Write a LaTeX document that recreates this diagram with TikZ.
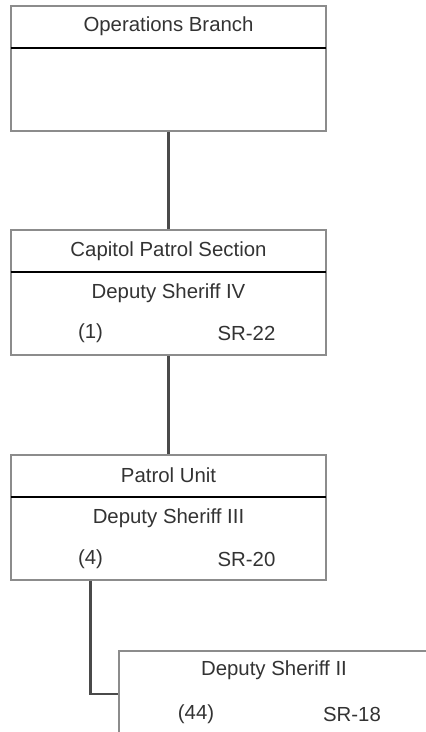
\documentclass[tikz,border=0pt]{standalone}
\usepackage{fontspec}
\setmainfont{Liberation Sans}
\usepackage{xcolor}
\usepackage{tikz}
\usetikzlibrary{positioning}
\definecolor{frame}{HTML}{8C8C8C}
\definecolor{ink}{HTML}{333333}
\definecolor{wire}{HTML}{4A4A4A}

\begin{document}
\begin{tikzpicture}[
  node distance=1.95cm,
  unitbox/.style={draw=frame, line width=1.1pt, minimum width=6.3cm, minimum height=2.5cm, inner sep=0pt},
  hdr/.style={minimum width=6.3cm, minimum height=0.84cm, inner sep=0pt, text=ink, font=\fontsize{11.6}{14}\selectfont},
  txt/.style={text=ink, inner sep=0pt, font=\fontsize{11.6}{14}\selectfont},
  divider/.style={line width=1.1pt, black},
  link/.style={line width=1.2pt, wire}]
\clip (0,0) rectangle (8.52,-14.64);
\node[unitbox] (ops) at (3.37,-1.37) {};
\node[hdr, below=0pt of ops.north] (opsT) {Operations Branch};
\node[unitbox, below=of ops] (cps) {};
\node[hdr, below=0pt of cps.north] (cpsT) {Capitol Patrol Section};
\node[txt, below=0.43cm of cpsT.south, anchor=center] (cpsR) {Deputy Sheriff IV};
\node[txt, below left=1.23cm and 1.56cm of cpsT.south, anchor=center] (cpsN) {(1)};
\node[txt, below right=1.23cm and 1.56cm of cpsT.south, anchor=center] (cpsG) {SR-22};
\node[unitbox, below=of cps] (pu) {};
\node[hdr, below=0pt of pu.north] (puT) {Patrol Unit};
\node[txt, below=0.43cm of puT.south, anchor=center] (puR) {Deputy Sheriff III};
\node[txt, below left=1.26cm and 1.56cm of puT.south, anchor=center] (puN) {(4)};
\node[txt, below right=1.26cm and 1.56cm of puT.south, anchor=center] (puG) {SR-20};
\node[unitbox, minimum width=6.2cm, minimum height=1.72cm, below=1.38cm of pu, xshift=2.11cm] (dsb) {};
\node[txt, below=0.41cm of dsb.north, anchor=center] (dsbR) {Deputy Sheriff II};
\node[txt, below left=1.29cm and 1.56cm of dsb.north, anchor=center] (dsbN) {(44)};
\node[txt, below right=1.29cm and 1.56cm of dsb.north, anchor=center] (dsbG) {SR-18};
\draw[divider] (opsT.south west) -- (opsT.south east);
\draw[divider] (cpsT.south west) -- (cpsT.south east);
\draw[divider] (puT.south west) -- (puT.south east);
\draw[link] (ops.south) -- (cps.north);
\draw[link] (cps.south) -- (pu.north);
\draw[link] (pu.south -| puN) |- (dsb.west);
\end{tikzpicture}
\end{document}
